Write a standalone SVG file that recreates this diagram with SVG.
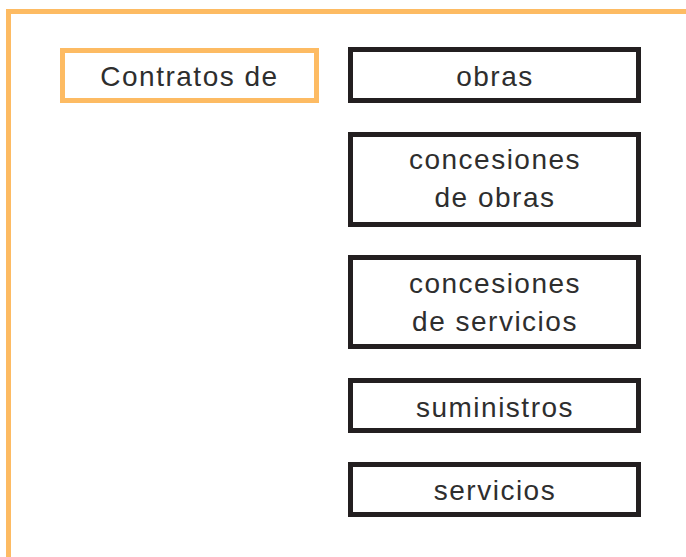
<svg xmlns="http://www.w3.org/2000/svg" width="686" height="557" viewBox="0 0 686 557">
<style>
.t{font-family:"Liberation Sans",Arial,sans-serif;font-size:28px;letter-spacing:1.5px;fill:#2e2e2e;text-anchor:middle}
.b{fill:#fff;stroke:#231f20;stroke-width:5}
.o{fill:none;stroke:#FDBB63;stroke-width:5}
</style>
<rect width="686" height="557" fill="#fff"/>
<g id="frame"><path class="o" d="M8.5,557 V11.5 H686"/></g>
<g id="connectors"></g>
<g id="contratos"><rect class="o" x="62.5" y="50.5" width="254" height="50"/><text class="t" x="189.5" y="86">Contratos de</text></g>
<g id="obras"><rect class="b" x="350.5" y="49.5" width="288" height="51"/><text class="t" x="495" y="86">obras</text></g>
<g id="concesiones-obras"><rect class="b" x="350.5" y="134.5" width="288" height="90"/><text class="t" x="495" y="169">concesiones</text><text class="t" x="495" y="207">de obras</text></g>
<g id="concesiones-servicios"><rect class="b" x="350.5" y="257.5" width="288" height="89"/><text class="t" x="495" y="293">concesiones</text><text class="t" x="495" y="331">de servicios</text></g>
<g id="suministros"><rect class="b" x="350.5" y="380.5" width="288" height="50"/><text class="t" x="495" y="417">suministros</text></g>
<g id="servicios"><rect class="b" x="350.5" y="464.5" width="288" height="50"/><text class="t" x="495" y="500">servicios</text></g>
</svg>
